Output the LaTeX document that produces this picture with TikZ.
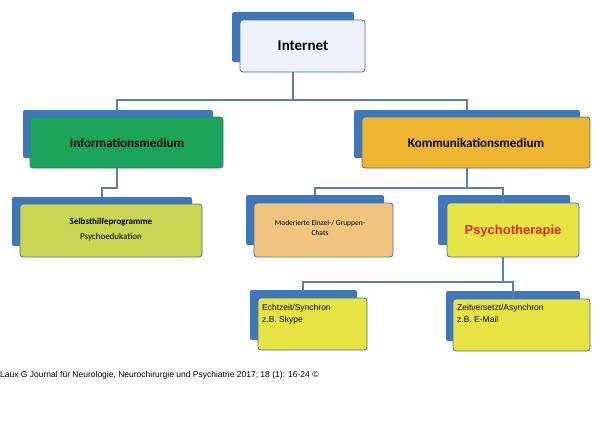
\documentclass[tikz,border=0pt]{standalone}
\usepackage{fontspec}
\setmainfont{Carlito}
\newfontfamily\arialf{Liberation Sans}
\definecolor{backb}{HTML}{3F78BA}
\definecolor{edgeb}{HTML}{4A6E9A}
\definecolor{linec}{HTML}{5A7FAF}
\definecolor{inetc}{HTML}{EEF2FA}
\definecolor{greenc}{HTML}{1AA55A}
\definecolor{orangec}{HTML}{EEB530}
\definecolor{limec}{HTML}{C8D652}
\definecolor{peachc}{HTML}{F2C57F}
\definecolor{yellc}{HTML}{E6E444}
\definecolor{redc}{HTML}{E02A20}
\tikzset{
 backbox/.style={fill=backb,rounded corners=2pt},
 frontbox/.style={draw=edgeb,line width=0.8pt,rounded corners=3pt},
 conn/.style={draw=linec,line width=1.2pt},
}
\begin{document}
\begin{tikzpicture}[x=1pt,y=-1pt]
\useasboundingbox (0,0) rectangle (600,423);
% Internet
\fill[backb,rounded corners=2pt] (232,12) rectangle (354,62);
\draw[frontbox,fill=inetc] (240,20) rectangle (365,72);
\node (inet) at (303,46) {\fontsize{15}{18}\selectfont\bfseries Internet};
% Info
\fill[backbox] (23,110) rectangle (213,158);
\draw[frontbox,fill=greenc] (30,117) rectangle (223,168);
\node (info) at (127,143) {\fontsize{13}{16}\selectfont\bfseries Informationsmedium};
% Komm
\fill[backbox] (354,110) rectangle (580,158);
\draw[frontbox,fill=orangec] (362,117) rectangle (590,168);
\node (komm) at (476,143) {\fontsize{13}{16}\selectfont\bfseries Kommunikationsmedium};
% Selbst
\fill[backbox] (12,197) rectangle (192,246);
\draw[frontbox,fill=limec] (20,204) rectangle (202,257);
\node[align=center,font=\fontsize{9}{15}\selectfont] (selb) at (111,230) {\textbf{Selbsthilfeprogramme}\\Psychoedukation};
% Moderierte
\fill[backbox] (246,195) rectangle (384,245);
\draw[frontbox,fill=peachc] (254,203) rectangle (393,257);
\node[align=center,font=\fontsize{7.5}{10}\selectfont] (mod) at (320,228) {Moderierte Einzel-/ Gruppen-\\Chats};
% Psycho
\fill[backbox] (438,195) rectangle (570,245);
\draw[frontbox,fill=yellc] (447,203) rectangle (579,257);
\node[font=\arialf\fontsize{13}{16}\selectfont\bfseries,text=redc] (psy) at (513,231) {Psychotherapie};
% Echtzeit
\fill[backbox] (250,290) rectangle (357,340);
\draw[frontbox,fill=yellc] (258,298) rectangle (367,350);
\node[align=left,anchor=north west,font=\arialf\fontsize{8.5}{12}\selectfont,inner sep=0pt] (echt) at (262,304) {Echtzeit/Synchron\\z.B. Skype};
% Zeitversetzt
\fill[backbox] (446,291) rectangle (580,341);
\draw[frontbox,fill=yellc] (453,299) rectangle (590,351);
\node[align=left,anchor=north west,font=\arialf\fontsize{8.5}{12}\selectfont,inner sep=0pt] (zeit) at (457,304) {Zeitversetzt/Asynchron\\z.B. E-Mail};
% connectors
\coordinate (i0) at (293,72);
\draw[conn] (i0) -- (293,100) -- (117,100) -- (117,110);
\draw[conn] (293,100) -- (467,100) -- (467,110);
\draw[conn] (117,168) -- (117,188) -- (102,188) -- (102,197);
\draw[conn] (467,168) -- (467,188) -- (315,188) -- (315,195);
\draw[conn] (467,188) -- (503,188) -- (503,203);
\draw[conn] (503,257) -- (503,282) -- (303,282) -- (303,290);
\draw[conn] (503,282) -- (513,282) -- (513,299);
% citation
\node[anchor=west,font=\arialf\fontsize{8.5}{10}\selectfont,inner sep=0pt] (cit) at (0,375) {Laux G Journal für Neurologie, Neurochirurgie und Psychiatrie 2017; 18 (1): 16-24 ©};
\end{tikzpicture}
\end{document}
